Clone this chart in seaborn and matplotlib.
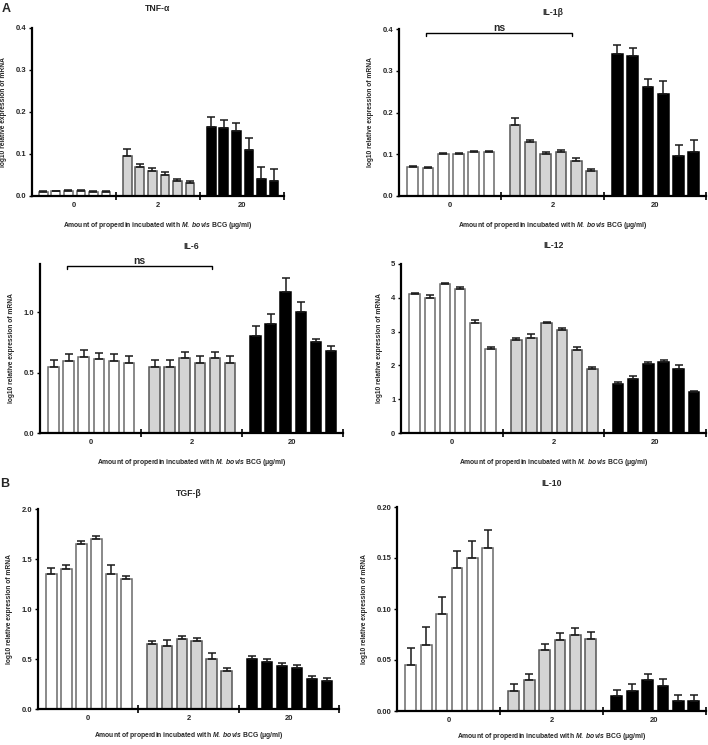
import numpy as np
import pandas as pd
import matplotlib
matplotlib.use("Agg")
import matplotlib.pyplot as plt
import seaborn as sns

# ---------------- data ----------------
groups = ["0", "2", "20"]
n_bars = 6

tnf_vals = [0.010, 0.011, 0.012, 0.013, 0.010, 0.009,
            0.095, 0.070, 0.060, 0.050, 0.035, 0.030,
            0.165, 0.162, 0.155, 0.110, 0.040, 0.035]
tnf_err = [0.002, 0.002, 0.002, 0.002, 0.002, 0.002,
           0.018, 0.006, 0.006, 0.006, 0.006, 0.006,
           0.023, 0.020, 0.020, 0.028, 0.030, 0.030]

il1b_vals = [0.070, 0.068, 0.100, 0.100, 0.105, 0.106,
             0.170, 0.130, 0.100, 0.105, 0.085, 0.060,
             0.340, 0.335, 0.260, 0.245, 0.095, 0.105]
il1b_err = [0.002, 0.002, 0.002, 0.002, 0.002, 0.002,
            0.017, 0.005, 0.005, 0.005, 0.005, 0.005,
            0.022, 0.020, 0.020, 0.030, 0.028, 0.028]

il6_vals = [0.55, 0.60, 0.63, 0.61, 0.60, 0.58,
            0.55, 0.55, 0.62, 0.58, 0.62, 0.58,
            0.80, 0.90, 1.17, 1.00, 0.75, 0.68]
il6_err = [0.055, 0.055, 0.055, 0.055, 0.055, 0.055,
           0.055, 0.055, 0.055, 0.055, 0.055, 0.055,
           0.085, 0.085, 0.110, 0.085, 0.025, 0.040]

il12_vals = [4.10, 4.00, 4.40, 4.25, 3.25, 2.50,
             2.75, 2.80, 3.25, 3.05, 2.45, 1.90,
             1.45, 1.60, 2.05, 2.10, 1.90, 1.20]
il12_err = [0.05, 0.07, 0.05, 0.06, 0.10, 0.05,
            0.05, 0.12, 0.04, 0.05, 0.10, 0.06,
            0.05, 0.10, 0.05, 0.05, 0.10, 0.05]

tgfb_vals = [1.35, 1.40, 1.65, 1.70, 1.35, 1.30,
             0.65, 0.63, 0.70, 0.68, 0.50, 0.38,
             0.50, 0.47, 0.43, 0.41, 0.30, 0.28]
tgfb_err = [0.06, 0.045, 0.03, 0.03, 0.09, 0.03,
            0.03, 0.06, 0.03, 0.03, 0.06, 0.03,
            0.03, 0.03, 0.03, 0.03, 0.03, 0.03]

il10_vals = [0.045, 0.065, 0.095, 0.140, 0.150, 0.160,
             0.020, 0.030, 0.060, 0.070, 0.075, 0.071,
             0.015, 0.020, 0.030, 0.025, 0.010, 0.010]
il10_err = [0.017, 0.017, 0.017, 0.017, 0.017, 0.017,
            0.006, 0.006, 0.006, 0.006, 0.006, 0.006,
            0.006, 0.006, 0.006, 0.006, 0.006, 0.006]

# ---------------- style ----------------
sns.set_theme(style="ticks")
plt.rcParams["font.family"] = ["Liberation Sans", "DejaVu Sans"]
plt.rcParams["font.weight"] = "bold"
plt.rcParams["mathtext.fontset"] = "custom"
plt.rcParams["mathtext.it"] = "Liberation Sans:italic:bold"
plt.rcParams["mathtext.rm"] = "Liberation Sans:bold"
plt.rcParams["mathtext.bf"] = "Liberation Sans:bold"

fills = {"0": "white", "2": "#d4d4d4", "20": "black"}
edges = {"0": "#6a6a6a", "2": "#555555", "20": "black"}

GW = 6.7      # width of a group slot in bar units
OFF = 0.9     # first bar centre offset inside group

W, H = 708, 745
fig = plt.figure(figsize=(W / 100, H / 100), dpi=100)


def axes_px(l, r, t, b):
    return fig.add_axes([l / W, 1 - b / H, (r - l) / W, (b - t) / H])


XLABEL = r"Amount of properdin incubated with $\mathit{M.\ bovis}$ BCG (μg/ml)"


def panel(ax, title, vals, errs, ylim, yticks, yfmt, pad, ns=None, xpad=8):
    grp = np.repeat(groups, n_bars)
    idx = np.tile(np.arange(n_bars), len(groups))
    gi = np.repeat(np.arange(len(groups)), n_bars)
    pos = gi * GW + OFF + idx
    df = pd.DataFrame({"pos": pos, "val": vals, "err": errs, "grp": grp})
    sns.barplot(data=df, x="pos", y="val", hue="grp", palette=fills,
                native_scale=True, dodge=False, width=0.7, legend=False,
                errorbar=None, ax=ax, linewidth=1.1, edgecolor="#555555")
    for bar in ax.patches:
        cx = bar.get_x() + bar.get_width() / 2
        g = groups[int(cx // GW)]
        bar.set_edgecolor(edges[g])
        bar.set_facecolor(fills[g])
    ax.errorbar(df["pos"], df["val"], yerr=[np.zeros(len(df)), df["err"]],
                fmt="none", ecolor="#1a1a1a", elinewidth=1.1, capsize=2.6,
                capthick=1.1, zorder=1)
    ax.set_xlim(0, GW * 3)
    ax.set_ylim(*ylim)
    ax.set_yticks(yticks)
    ax.set_yticklabels([yfmt.format(v) for v in yticks])
    ax.set_xticks([GW, 2 * GW, 3 * GW])
    ax.set_xticklabels([])
    ax.set_xticks([GW * (i + 0.5) for i in range(3)], minor=True)
    ax.set_xticklabels(groups, minor=True)
    ax.tick_params(axis="x", which="major", direction="inout", length=6,
                   width=1.2, color="black")
    ax.tick_params(axis="x", which="minor", length=0, labelsize=5.5, pad=4)
    ax.tick_params(axis="y", which="major", length=2.5, width=1.0,
                   labelsize=5.5, pad=1.5, color="black")
    sns.despine(ax=ax)
    for s in ("left", "bottom"):
        ax.spines[s].set_linewidth(1.6)
        ax.spines[s].set_color("black")
    ax.set_xlabel(XLABEL, fontsize=4.9, fontweight="bold", labelpad=xpad)
    ax.set_ylabel("log10 relative expression of mRNA", fontsize=4.8,
                  fontweight="bold", labelpad=6)
    ax.set_title(title, fontsize=6.2, fontweight="bold", pad=pad)
    ax.set_facecolor("none")
    if ns is not None:
        x0, x1, y, tick = ns
        ax.plot([x0, x0, x1, x1], [y - tick, y, y, y - tick], color="black",
                lw=1.0, clip_on=False)
        ax.text((x0 + x1) / 2, y, "ns", ha="center", va="bottom",
                fontsize=7.5, fontweight="bold")


ax1 = axes_px(32, 284, 28, 196)
panel(ax1, "TNF-α", tnf_vals, tnf_err, (0, 0.4), [0, 0.1, 0.2, 0.3, 0.4],
      "{:.1f}", 12)

ax2 = axes_px(399, 706, 29, 196)
panel(ax2, "IL-1β", il1b_vals, il1b_err, (0, 0.4), [0, 0.1, 0.2, 0.3, 0.4],
      "{:.1f}", 10, ns=(1.75, 11.35, 0.39, 0.006))

ax3 = axes_px(40, 343, 264, 433)
panel(ax3, "IL-6", il6_vals, il6_err, (0, 1.4), [0, 0.5, 1.0],
      "{:.1f}", 11, ns=(1.77, 11.4, 1.38, 0.02))

ax4 = axes_px(401, 706, 264, 433)
panel(ax4, "IL-12", il12_vals, il12_err, (0, 5), [0, 1, 2, 3, 4, 5],
      "{:.0f}", 11.5)

ax5 = axes_px(38, 339, 509, 709)
panel(ax5, "TGF-β", tgfb_vals, tgfb_err, (0, 2.0), [0, 0.5, 1.0, 1.5, 2.0],
      "{:.1f}", 9.5, xpad=6)

ax6 = axes_px(397, 706, 507, 711)
panel(ax6, "IL-10", il10_vals, il10_err, (0, 0.2),
      [0, 0.05, 0.10, 0.15, 0.20], "{:.2f}", 15, xpad=5)

fig.text(6 / W, 1 - 9 / H, "A", fontsize=9, fontweight="bold",
         ha="center", va="center")
fig.text(5 / W, 1 - 484 / H, "B", fontsize=9, fontweight="bold",
         ha="center", va="center")

fig.savefig("out.png", dpi=100, facecolor="white")
